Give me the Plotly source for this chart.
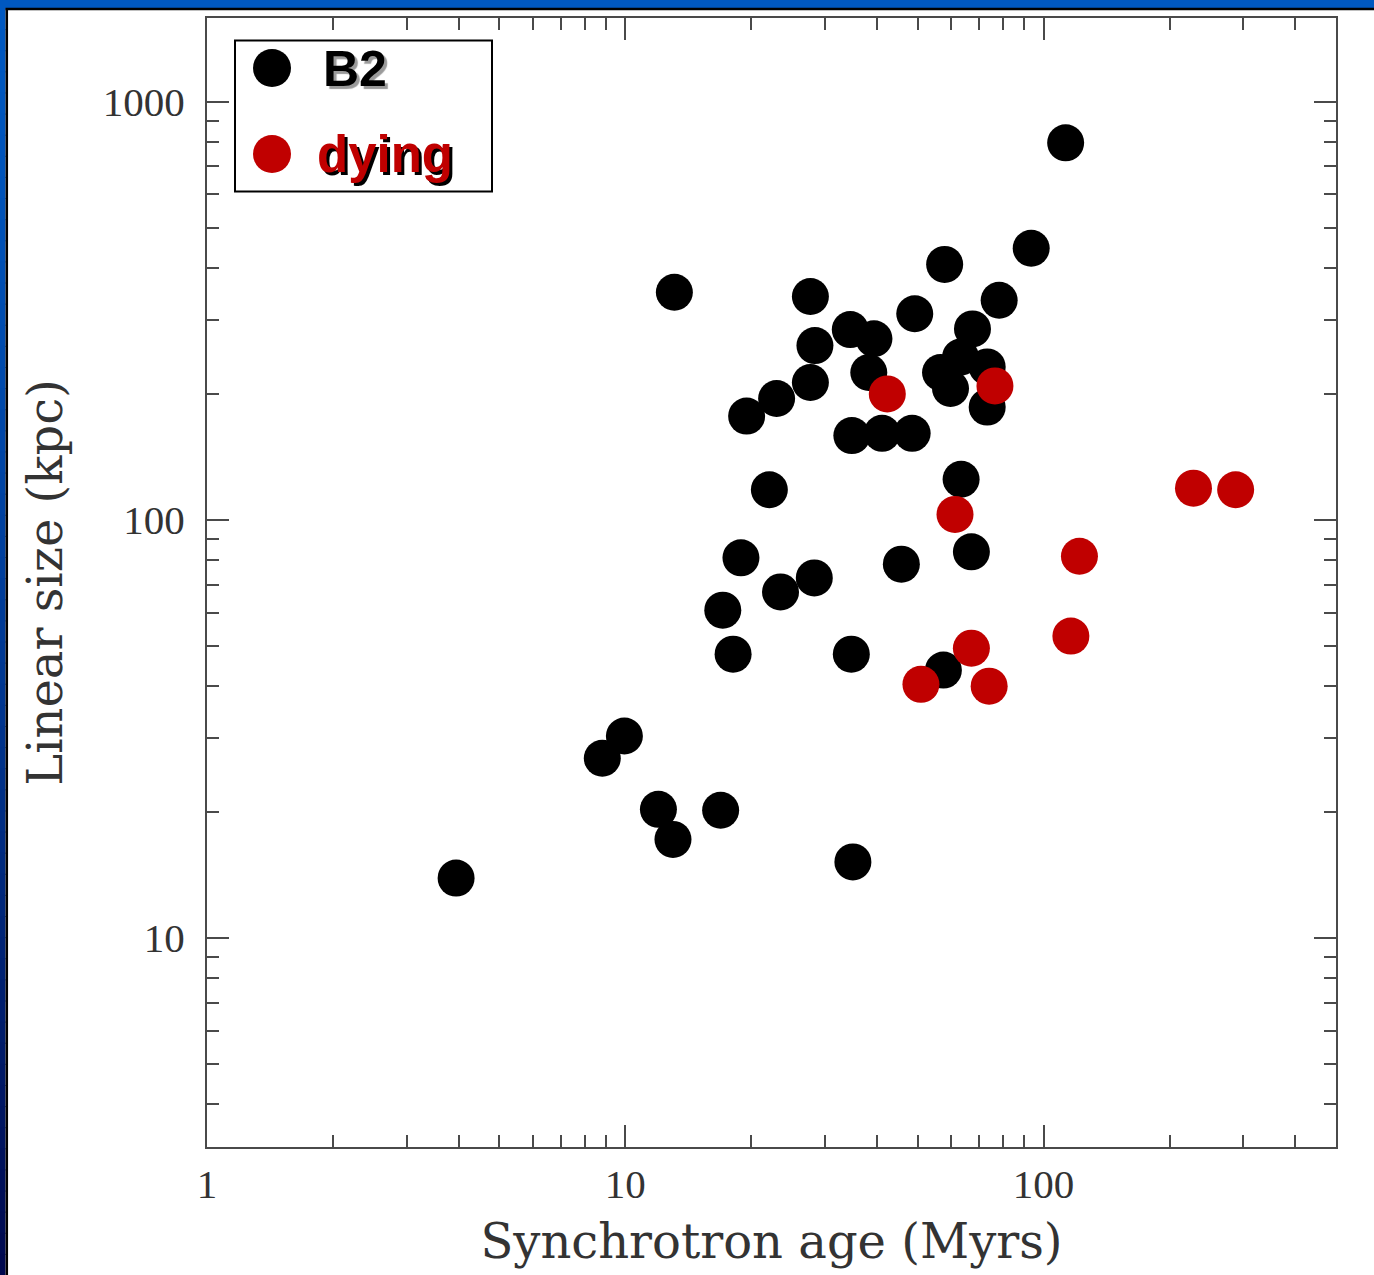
import plotly.graph_objects as go

# Synchrotron age (Myr) and linear size (kpc) of the B2 sample
b2_age = [112.9, 93.4, 58.0, 78.3, 49.2, 13.1, 27.7, 34.5, 39.3, 28.4,
          67.6, 38.2, 56.7, 63.3, 73.3, 59.9, 73.3, 27.7, 23.0, 19.5,
          34.8, 41.1, 48.5, 22.1, 63.5, 18.9, 67.2, 45.7, 28.3, 23.5,
          17.1, 18.1, 34.7, 57.6, 9.95, 8.81, 12.0, 16.9, 13.0, 35.0,
          3.94]
b2_size = [797, 446, 408, 335, 311, 350, 342, 285, 271, 261,
           286, 225, 225, 245, 232, 206, 186, 213, 195, 177,
           159, 161, 161, 118, 125, 81.1, 83.8, 78.3, 72.6, 67.2,
           60.8, 47.7, 47.7, 43.7, 30.4, 26.9, 20.3, 20.2, 17.2, 15.2,
           13.9]

# Dying sources
dying_age = [42.3, 76.5, 228.2, 287.8, 61.4, 121.8, 116.2, 67.2, 50.9, 74.1]
dying_size = [200, 209, 119, 118, 103, 81.8, 52.7, 49.3, 40.4, 40.0]

series_names = ["B2", "dying"]
series_colors = ["#000000", "#C00000"]

x_tickvals = [1, 10, 100]
x_ticktext = ["1", "10", "100"]
y_tickvals = [10, 100, 1000]
y_ticktext = ["10", "100", "1000"]
x_minor = [m * 10 ** e for e in range(0, 3) for m in range(2, 10)]
y_minor = [m * 10 ** e for e in range(0, 4) for m in range(2, 10)]

# page geometry (pixels)
W, H = 1374, 1275
ML, MR, MT, MB = 207, 38, 18, 128
PW, PH = W - ML - MR, H - MT - MB


def fx(x):
    """pixel column -> paper x"""
    return (x - ML) / PW


def fy(y):
    """pixel row -> paper y"""
    return (H - MB - y) / PH


fig = go.Figure()
for name, color, xs, ys in [
    (series_names[0], series_colors[0], b2_age, b2_size),
    (series_names[1], series_colors[1], dying_age, dying_size),
]:
    fig.add_trace(go.Scatter(
        x=xs, y=ys, mode="markers", name=name,
        marker=dict(size=37, color=color, line=dict(width=0)),
        showlegend=False,
    ))

axis_common = dict(
    type="log",
    showline=True, linecolor="#4a4a4a", linewidth=2,
    mirror="ticks",
    ticks="inside", ticklen=22, tickwidth=2, tickcolor="#4a4a4a",
    showgrid=False, zeroline=False,
    tickfont=dict(family="Liberation Serif, Times New Roman, serif", size=41, color="#333333"),
    title_font=dict(family="DejaVu Serif, serif", size=48, color="#333333"),
    tickmode="array",
)

fig.update_xaxes(
    **axis_common,
    range=[0, 2.699],
    tickvals=x_tickvals, ticktext=x_ticktext,
    minor=dict(tickmode="array", tickvals=x_minor, ticks="inside", ticklen=12,
               tickwidth=2, tickcolor="#4a4a4a", showgrid=False),
    title_text="Synchrotron age (Myrs)",
    title_standoff=18,
)
fig.update_yaxes(
    **axis_common,
    range=[0.5, 3.2],
    tickvals=y_tickvals, ticktext=y_ticktext,
    ticklabelstandoff=12,
    minor=dict(tickmode="array", tickvals=y_minor, ticks="inside", ticklen=12,
               tickwidth=2, tickcolor="#4a4a4a", showgrid=False),
    title_text="Linear size (kpc)",
    title_standoff=25,
)

shapes = []

# slide frame: blue bar on top, gradient bar on the left
shapes.append(dict(type="rect", xref="paper", yref="paper",
                   x0=fx(-2), x1=fx(W + 2), y0=fy(8), y1=fy(-2),
                   fillcolor="#0058C0", line=dict(width=0), layer="above"))
n_bands = 60
top_rgb = (0, 88, 192)
bot_rgb = (0, 8, 78)
for i in range(n_bands):
    y0p = 8 + (H - 8) * i / n_bands
    y1p = 8 + (H - 8) * (i + 1) / n_bands + 1
    t = ((i + 0.5) / n_bands) ** 1.4
    c = tuple(round(a + (b - a) * t) for a, b in zip(top_rgb, bot_rgb))
    shapes.append(dict(type="rect", xref="paper", yref="paper",
                       x0=fx(-2), x1=fx(5.5), y0=fy(y1p), y1=fy(y0p),
                       fillcolor="rgb(%d,%d,%d)" % c, line=dict(width=0), layer="above"))
shapes.append(dict(type="line", xref="paper", yref="paper",
                   x0=fx(5.5), x1=fx(W + 2), y0=fy(9), y1=fy(9),
                   line=dict(color="#000000", width=2.5), layer="above"))
shapes.append(dict(type="line", xref="paper", yref="paper",
                   x0=fx(6.8), x1=fx(6.8), y0=fy(8), y1=fy(H + 2),
                   line=dict(color="#000000", width=2.5), layer="above"))

# legend box with its two symbols
shapes.append(dict(type="rect", xref="paper", yref="paper",
                   x0=fx(235), x1=fx(492), y0=fy(191.5), y1=fy(40.5),
                   fillcolor="white", line=dict(color="black", width=2), layer="above"))
for color, cy in zip(series_colors, [68, 154]):
    shapes.append(dict(type="circle", xref="paper", yref="paper",
                       xsizemode="pixel", ysizemode="pixel",
                       xanchor=fx(272), yanchor=fy(cy),
                       x0=-19, x1=19, y0=-19, y1=19,
                       fillcolor=color, line=dict(width=0), layer="above"))

annotations = [
    dict(text=series_names[0], xref="paper", yref="paper",
         x=fx(321), y=fy(69), xanchor="left", yanchor="middle", showarrow=False,
         font=dict(family="Liberation Sans, Arial, sans-serif", size=50, weight="bold",
                   color=series_colors[0], shadow="3px 3px 1px #9a9a9a")),
    dict(text=series_names[1], xref="paper", yref="paper",
         x=fx(315), y=fy(154), xanchor="left", yanchor="middle", showarrow=False,
         font=dict(family="Liberation Sans, Arial, sans-serif", size=51, weight="bold",
                   color=series_colors[1], shadow="3px 3px 0px #000000")),
]

fig.update_layout(
    width=W, height=H,
    margin=dict(l=ML, r=MR, t=MT, b=MB, autoexpand=False),
    paper_bgcolor="white", plot_bgcolor="white",
    shapes=shapes, annotations=annotations,
    showlegend=False,
)

fig.write_html("out.html")
